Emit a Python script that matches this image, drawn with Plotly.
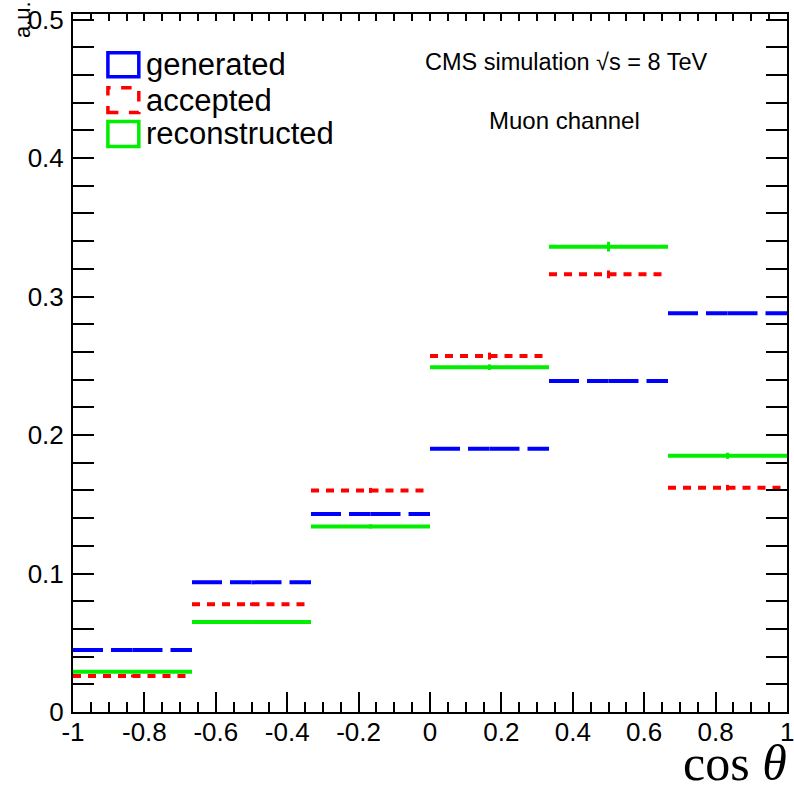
import plotly.graph_objects as go

# ---- data ----
bin_edges = [-1.0, -2/3, -1/3, 0.0, 1/3, 2/3, 1.0]
generated = [0.0448, 0.0936, 0.143, 0.190, 0.239, 0.288]
accepted = [0.026, 0.0778, 0.160, 0.257, 0.316, 0.162]
accepted_err = [0.0010, 0.0012, 0.0018, 0.0025, 0.0028, 0.0020]
reconstructed = [0.029, 0.0649, 0.134, 0.249, 0.336, 0.185]
reconstructed_err = [0.0010, 0.0012, 0.0015, 0.0020, 0.0035, 0.0022]
x_ticks = [-1, -0.8, -0.6, -0.4, -0.2, 0, 0.2, 0.4, 0.6, 0.8, 1]
x_ticklabels = ["-1", "-0.8", "-0.6", "-0.4", "-0.2", "0", "0.2", "0.4", "0.6", "0.8", "1"]
y_ticks = [0, 0.1, 0.2, 0.3, 0.4, 0.5]
y_ticklabels = ["0", "0.1", "0.2", "0.3", "0.4", "0.5"]

W, H = 794, 787
ML, MR, MT, MB = 73, 5, 11, 75
PW, PH = W - ML - MR, H - MT - MB


def px(x):
    return (x - ML) / PW


def py(y):
    return (H - MB - y) / PH


def step_segments(vals):
    xs, ys = [], []
    for i, v in enumerate(vals):
        lo, hi = bin_edges[i], bin_edges[i + 1]
        c = 0.5 * (lo + hi)
        xs += [lo, c, None, c, hi, None]
        ys += [v, v, None, v, v, None]
    return xs, ys


centers = [0.5 * (bin_edges[i] + bin_edges[i + 1]) for i in range(len(generated))]

fig = go.Figure()

series = [
    ("generated", generated, None, "#0000ff", "30px,8px"),
    ("accepted", accepted, accepted_err, "#ff0000", "8px,7px"),
    ("reconstructed", reconstructed, reconstructed_err, "#00ee00", "solid"),
]

for name, vals, errs, col, dash in series:
    xs, ys = step_segments(vals)
    fig.add_trace(go.Scatter(x=xs, y=ys, mode="lines", name=name,
                             line=dict(color=col, width=4, dash=dash),
                             showlegend=False, connectgaps=False))
    if errs is not None:
        fig.add_trace(go.Scatter(x=centers, y=vals, mode="markers",
                                 marker=dict(size=1, color=col),
                                 error_y=dict(type="data", array=errs, color=col,
                                              thickness=3, width=0),
                                 showlegend=False))

# top axis (short ticks)
fig.add_trace(go.Scatter(x=[None], y=[None], xaxis="x2", showlegend=False))

font_main = "Liberation Sans, Arial, Helvetica, sans-serif"

fig.update_layout(
    width=W, height=H,
    margin=dict(l=ML, r=MR, t=MT, b=MB, pad=0),
    paper_bgcolor="white", plot_bgcolor="white",
    showlegend=False,
    font=dict(family=font_main, color="black"),
    xaxis=dict(range=[-1, 1], tickmode="array", tickvals=x_ticks, ticktext=x_ticklabels,
               ticks="inside", ticklen=20, tickwidth=2, tickcolor="black",
               minor=dict(dtick=0.05, ticklen=10, tickwidth=2, tickcolor="black", ticks="inside", showgrid=False),
               showline=True, linecolor="black", linewidth=2, mirror=True,
               showgrid=False, zeroline=False,
               tickfont=dict(size=26, family=font_main), ticklabelstandoff=-4),
    xaxis2=dict(range=[-1, 1], overlaying="x", side="top", dtick=0.05, tick0=0,
                ticks="inside", ticklen=7, tickwidth=2, tickcolor="black",
                showticklabels=False, showgrid=False, zeroline=False, showline=False),
    yaxis=dict(range=[0, 0.504], tickmode="array", tickvals=y_ticks, ticktext=y_ticklabels,
               ticks="inside", ticklen=21, tickwidth=2, tickcolor="black",
               minor=dict(dtick=0.02, ticklen=10, tickwidth=2, tickcolor="black", ticks="inside", showgrid=False),
               showline=True, linecolor="black", linewidth=2, mirror="allticks",
               showgrid=False, zeroline=False,
               tickfont=dict(size=26, family=font_main), ticklabelstandoff=2),
)

# last x tick label (partly outside the page, as in the reference)
fig.add_annotation(xref="x", yref="paper", x=x_ticks[-1], y=py(732),
                   text=x_ticklabels[-1], showarrow=False,
                   xanchor="center", yanchor="middle",
                   font=dict(size=26, family=font_main, color="black"))

# legend (drawn manually as ROOT-style boxes)
legend_rows = [("generated", "#0000ff", "solid", 50, 74),
               ("accepted", "#ff0000", "dash", 85, 110),
               ("reconstructed", "#00ee00", "solid", 119, 144)]
for label, col, dash, y0, y1 in legend_rows:
    fig.add_shape(type="rect", xref="paper", yref="paper",
                  x0=px(108), x1=px(139), y0=py(y1), y1=py(y0),
                  line=dict(color=col, width=3.5, dash=dash), fillcolor="white")
    fig.add_annotation(xref="paper", yref="paper", x=px(144), y=py((y0 + y1) / 2),
                       text=label, showarrow=False, xanchor="left", yanchor="middle",
                       font=dict(size=31, family=font_main, color="black"))

fig.add_annotation(xref="paper", yref="paper", x=px(567), y=py(59),
                   text="CMS simulation √s = 8 TeV", showarrow=False,
                   xanchor="center", yanchor="middle",
                   font=dict(size=23.5, family=font_main, color="black"))
fig.add_annotation(xref="paper", yref="paper", x=px(566), y=py(118),
                   text="Muon channel", showarrow=False,
                   xanchor="center", yanchor="middle",
                   font=dict(size=24, family=font_main, color="black"))
fig.add_annotation(xref="paper", yref="paper", x=px(23), y=py(17),
                   text="a.u.", showarrow=False, textangle=-90,
                   xanchor="center", yanchor="middle",
                   font=dict(size=22, family=font_main, color="black"))
fig.add_annotation(xref="paper", yref="paper", x=px(791), y=py(763),
                   text="cos <i>θ</i>", showarrow=False,
                   xanchor="right", yanchor="middle",
                   font=dict(size=50, family="Liberation Serif, DejaVu Serif, serif", color="black"))

fig.write_html("out.html")
